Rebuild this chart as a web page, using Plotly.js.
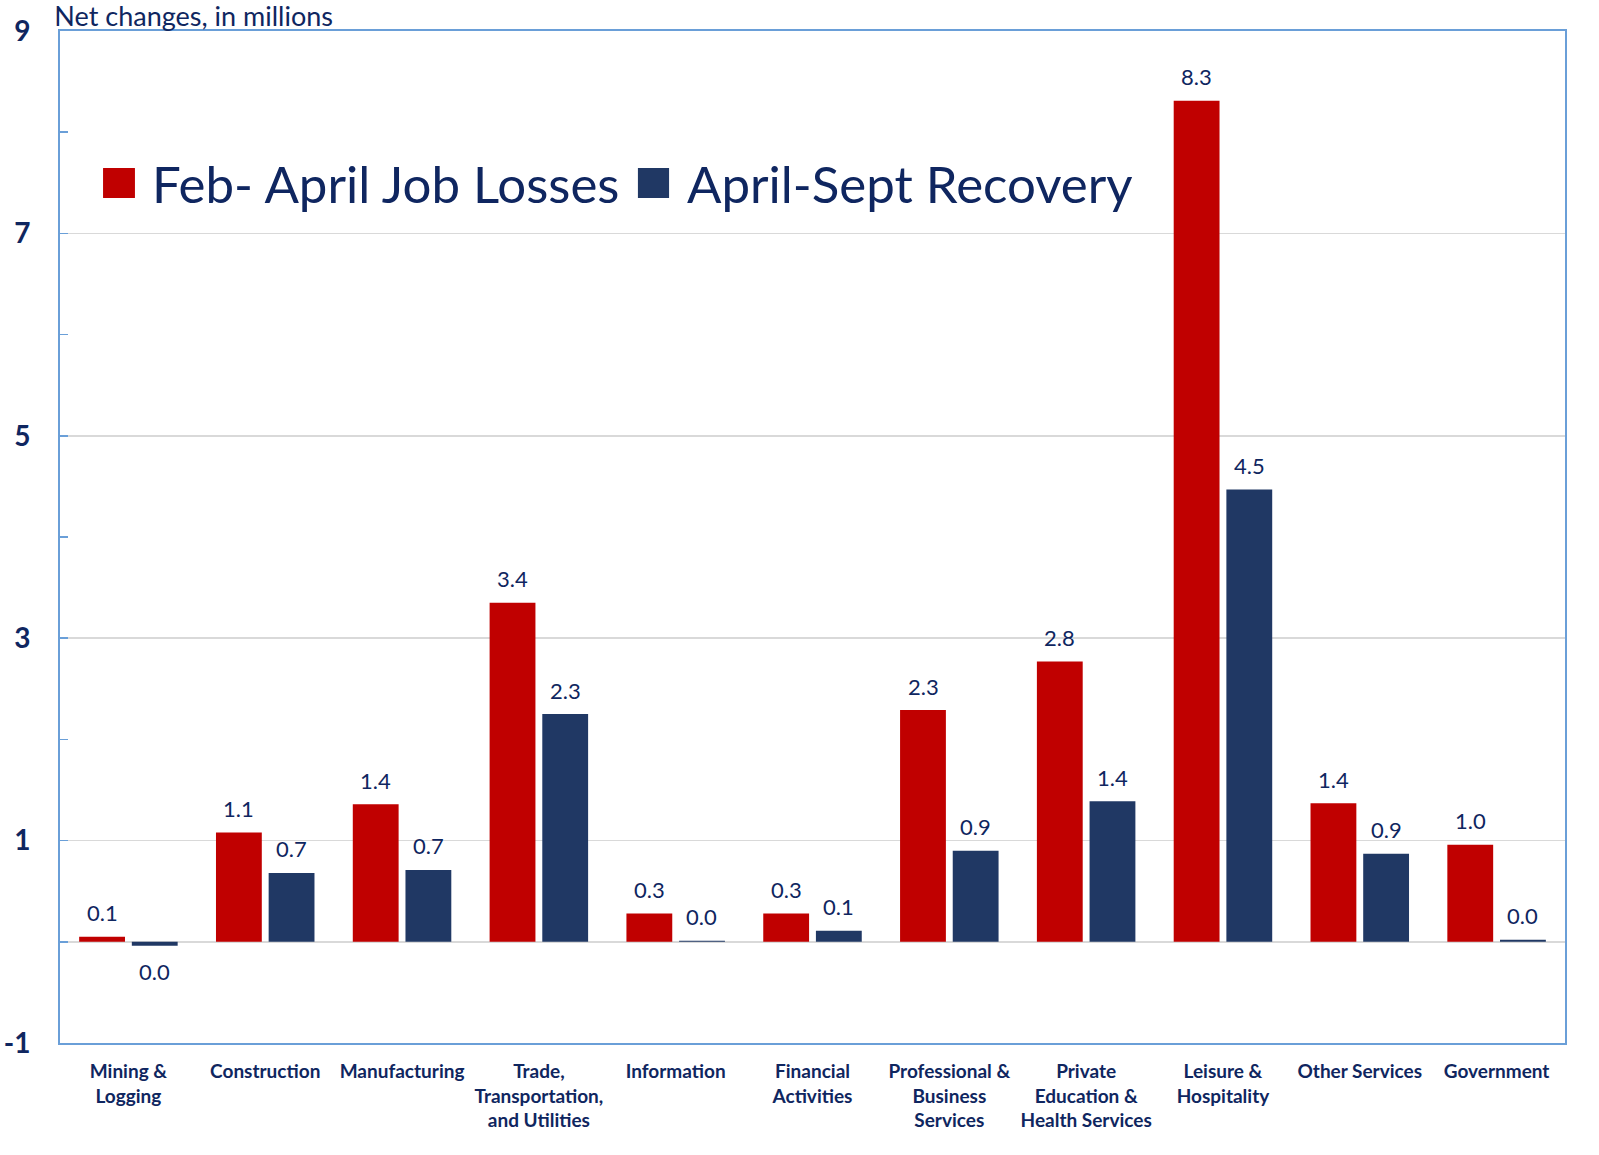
<!DOCTYPE html>
<html>
<head>
<meta charset="utf-8">
<script src="https://cdn.plot.ly/plotly-3.0.1.min.js"></script>
<style>body{margin:0;background:#fff;} #chart{width:1599px;height:1155px;}</style>
</head>
<body>
<div id="chart"></div>
<script>
const categories = ["Mining &<br>Logging","Construction","Manufacturing","Trade,<br>Transportation,<br>and Utilities","Information","Financial<br>Activities","Professional &<br>Business<br>Services","Private<br>Education &<br>Health Services","Leisure &<br>Hospitality","Other Services","Government"];
const losses = [0.05, 1.08, 1.36, 3.35, 0.28, 0.28, 2.29, 2.77, 8.31, 1.37, 0.96];
const recovery = [-0.04, 0.68, 0.71, 2.25, 0.01, 0.11, 0.90, 1.39, 4.47, 0.87, 0.02];
const seriesNames = ["Feb- April Job Losses", "April-Sept Recovery"];
const yTickVals = [-1, 1, 3, 5, 7, 9];
const yMinorVals = [0, 2, 4, 6, 8];

const FONT = "Lato, 'Open Sans', sans-serif";
const NAVY = "#0f2660";
const RED = "#C00000";
const BLUE = "#203864";
const AXIS = "#6a9fd8";
function lbl(v){ return ((Math.round(v*10)/10)+0).toFixed(1); }

const traces = [
  {type:'bar', name:seriesNames[0], x:categories, y:losses, marker:{color:RED}, hoverinfo:'y'},
  {type:'bar', name:seriesNames[1], x:categories, y:recovery, marker:{color:BLUE}, hoverinfo:'y'}
];

const annotations = [];
[[losses,-26.3],[recovery,26.3]].forEach(([arr, dx]) => {
  arr.forEach((v, i) => {
    annotations.push({x:categories[i], y:v, xref:'x', yref:'y', text:lbl(v), showarrow:false,
      xshift:dx, yshift: v >= 0 ? 24 : -26, yanchor:'middle',
      font:{family:FONT, size:22, color:NAVY}});
  });
});
// legend (drawn as shapes + text so the swatches can be large)
annotations.push({xref:'paper', yref:'paper', x:0.0598, y:0.8498, xanchor:'left', yanchor:'middle', showarrow:false,
  text:seriesNames[0], font:{family:FONT, size:51, color:NAVY}});
annotations.push({xref:'paper', yref:'paper', x:0.4153, y:0.8498, xanchor:'left', yanchor:'middle', showarrow:false,
  text:seriesNames[1], font:{family:FONT, size:51, color:NAVY}});

const shapes = [
  {type:'rect', xref:'paper', yref:'paper', x0:0.053, x1:0.668, y0:0.798, y1:0.90, fillcolor:'#fff', line:{width:0}, layer:'between'},
  {type:'rect', xref:'paper', yref:'paper', x0:0.0286, x1:0.0498, y0:0.835, y1:0.8646, fillcolor:RED, line:{width:0}, layer:'above'},
  {type:'rect', xref:'paper', yref:'paper', x0:0.384, x1:0.4047, y0:0.835, y1:0.8646, fillcolor:BLUE, line:{width:0}, layer:'above'}
];

const layout = {
  width:1599, height:1155,
  margin:{l:60, r:34, t:31, b:112},
  paper_bgcolor:'#fff', plot_bgcolor:'#fff',
  font:{family:FONT, color:NAVY},
  barmode:'group', bargap:0.23, bargroupgap:0.13,
  showlegend:false,
  annotations: annotations,
  shapes: shapes,
  title:{text:'Net changes, in millions', x:0.034, xanchor:'left', y:0.9857, yanchor:'middle', font:{family:FONT, size:27, color:NAVY}},
  xaxis:{showline:true, linecolor:AXIS, linewidth:2, mirror:true, ticks:'', tickangle:0, automargin:false,
         ticklabelstandoff:10,
         tickfont:{family:FONT, size:19, color:NAVY, weight:'bold'}},
  yaxis:{range:[-1,9], tickmode:'array', tickvals:yTickVals, ticktext:yTickVals.map(String), automargin:false,
         showline:true, linecolor:AXIS, linewidth:2, mirror:true,
         ticks:'inside', ticklen:8, tickcolor:AXIS, tickwidth:1.5,
         minor:{tickvals:yMinorVals, ticks:'inside', ticklen:8, tickcolor:AXIS, tickwidth:1.5, showgrid:false},
         showgrid:true, gridcolor:'#d9d9d9', gridwidth:1.5,
         zeroline:true, zerolinecolor:'#d9d9d9', zerolinewidth:1.5,
         tickfont:{family:FONT, size:28, color:NAVY, weight:'bold'}, ticklabelstandoff:22}
};

Plotly.newPlot('chart', traces, layout, {displayModeBar:false, staticPlot:true});
</script>
</body>
</html>
